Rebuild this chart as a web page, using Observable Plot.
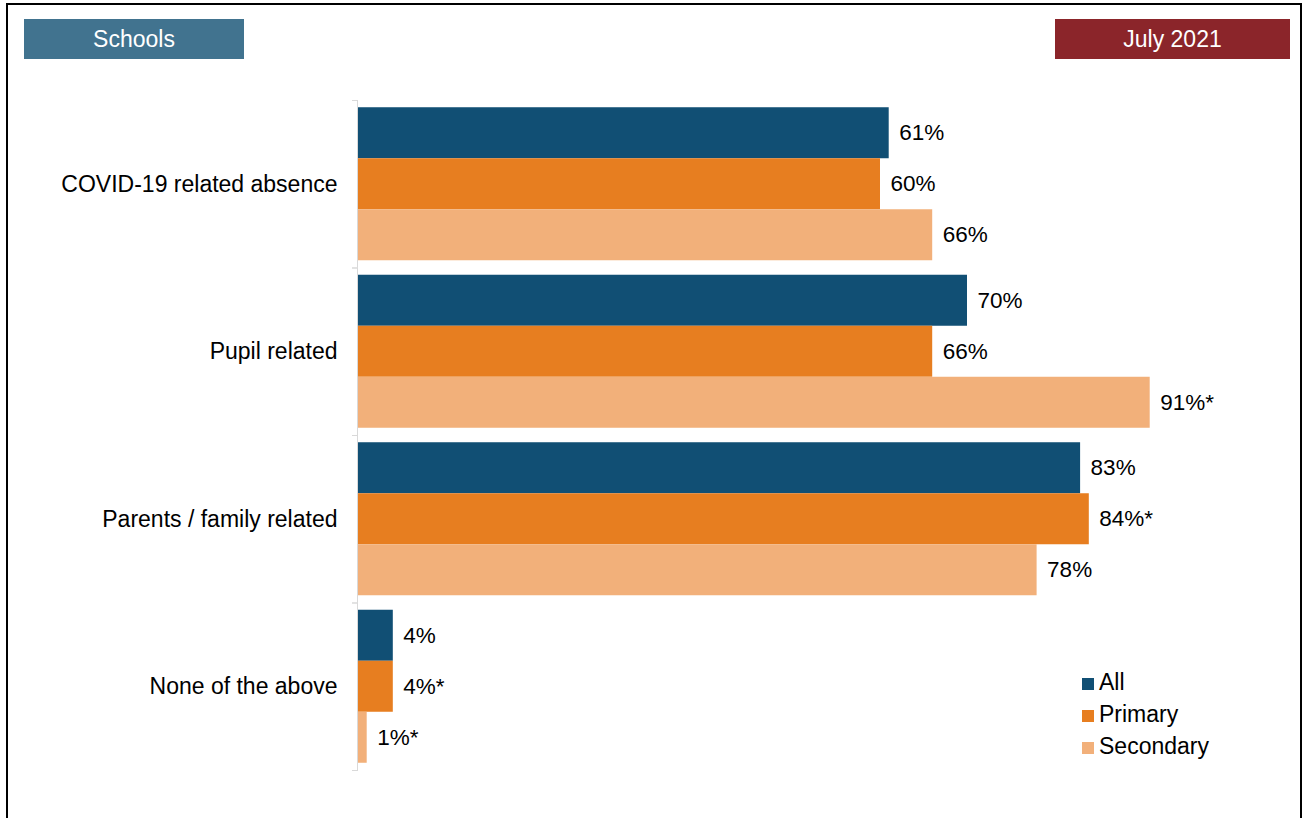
<!DOCTYPE html>
<html>
<head>
<meta charset="utf-8">
<script src="https://cdn.jsdelivr.net/npm/d3@7"></script>
<script src="https://cdn.jsdelivr.net/npm/@observablehq/plot@0.6"></script>
<style>
  html, body { margin: 0; padding: 0; background: #fff; overflow: hidden; }
  body { width: 1303px; height: 818px; position: relative; font-family: "Liberation Sans", Arial, sans-serif; }
  #frame { position: absolute; left: 6px; top: 3px; width: 1296px; height: 900px; box-sizing: border-box; border: 2px solid #000; }
  .badge { position: absolute; top: 19px; height: 40px; line-height: 40px; color: #fff; font-size: 23px; text-align: center; }
  #chart { position: absolute; left: 0; top: 0; }
  #legend { position: absolute; left: 1082px; top: 666px; font-size: 23px; color: #000; }
  #legend .row { display: flex; align-items: center; height: 32px; }
  #legend .sw { width: 12px; height: 12px; margin-right: 5px; margin-top: 3px; }
</style>
</head>
<body>
<div id="frame"></div>
<div class="badge" id="b1" style="left:24px;width:220px;background:#41738F;">Schools</div>
<div class="badge" id="b2" style="left:1055px;width:235px;background:#8B252A;">July 2021</div>
<div id="chart"></div>
<div id="legend"></div>
<script>
const categories = ["COVID-19 related absence", "Pupil related", "Parents / family related", "None of the above"];
const series = ["All", "Primary", "Secondary"];
const allValues = [61, 70, 83, 4];
const primaryValues = [60, 66, 84, 4];
const secondaryValues = [66, 91, 78, 1];
const allSig = [false, false, false, false];
const primarySig = [false, false, true, true];
const secondarySig = [false, true, false, true];
const colors = ["#114F74", "#E77E20", "#F2B07A"];

const seriesValues = [allValues, primaryValues, secondaryValues];
const seriesSig = [allSig, primarySig, secondarySig];
const data = [];
categories.forEach((c, i) => {
  series.forEach((s, j) => {
    const v = seriesValues[j][i];
    data.push({category: c, series: s, value: v, label: v + "%" + (seriesSig[j][i] ? "*" : "")});
  });
});

const W = 1303, H = 790, mTop = 100, mBottom = 20;
const halfBand = (H - mTop - mBottom) / categories.length / 2;

const chart = Plot.plot({
  width: W,
  height: H,
  marginTop: mTop,
  marginBottom: mBottom,
  marginLeft: 358,
  marginRight: 75,
  style: {fontFamily: "'Liberation Sans', Arial, sans-serif", fontSize: "22px", color: "#000", background: "transparent"},
  x: {domain: [0, 100], axis: null},
  y: {domain: series, axis: null, paddingInner: 0, paddingOuter: 0.142, round: false},
  fy: {domain: categories, padding: 0, label: null, round: false},
  color: {domain: series, range: colors},
  marks: [
    Plot.ruleX([0], {stroke: "#d9d9d9", dx: -1}),
    Plot.barX(data, {x: "value", y: "series", fy: "category", fill: "series"}),
    Plot.text(data, {x: "value", y: "series", fy: "category", text: "label", textAnchor: "start", dx: 10, fontSize: 22.5, fill: "#000"}),
    Plot.axisFy({anchor: "left", text: null, tickSize: 6, dy: -halfBand, stroke: "#d9d9d9", label: null}),
    Plot.axisFy({anchor: "left", text: null, tickSize: 6, dy: halfBand, stroke: "#d9d9d9", label: null}),
    Plot.axisFy({anchor: "left", tickSize: 0, tickPadding: 21, fontSize: 23, fill: "#000", label: null})
  ]
});
document.getElementById("chart").appendChild(chart);

const legend = document.getElementById("legend");
series.forEach((s, i) => {
  const row = document.createElement("div");
  row.className = "row";
  const sw = document.createElement("span");
  sw.className = "sw";
  sw.style.background = colors[i];
  const t = document.createElement("span");
  t.textContent = s;
  row.appendChild(sw);
  row.appendChild(t);
  legend.appendChild(row);
});
</script>
</body>
</html>
